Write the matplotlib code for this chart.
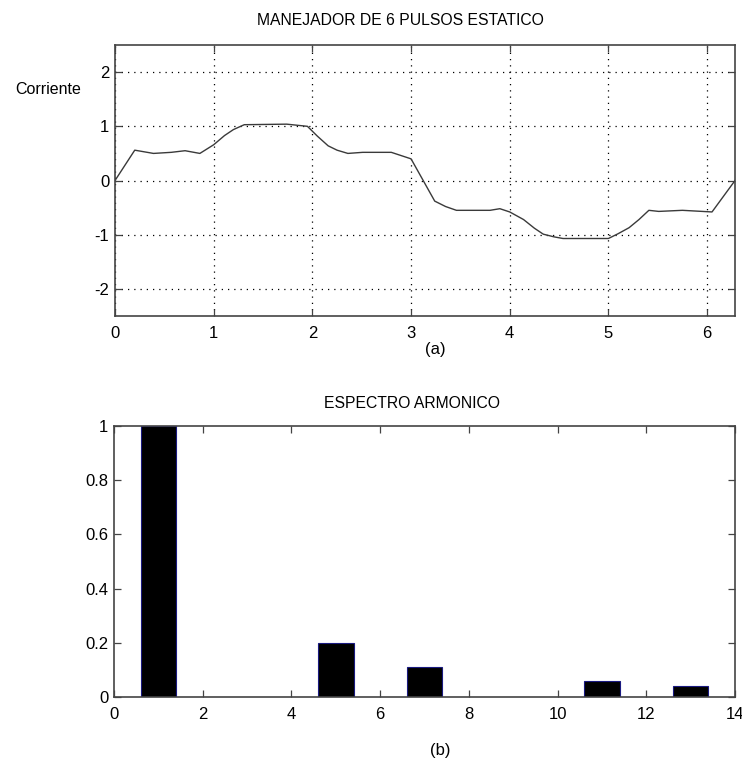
# -*- coding: utf-8 -*-
import numpy as np
import matplotlib
matplotlib.use("Agg")
import matplotlib.pyplot as plt

plt.rcParams['font.family'] = ['Liberation Sans Narrow', 'Liberation Sans', 'DejaVu Sans']
plt.rcParams['font.size'] = 12
plt.rcParams['axes.unicode_minus'] = False

#%% Datos leidos de la figura
# corriente del manejador de 6 pulsos (a)
t = [0, 0.20, 0.39, 0.57, 0.71, 0.86, 1.0, 1.11, 1.20, 1.31, 1.74, 1.95, 2.05, 2.16,
     2.25, 2.36, 2.51, 2.80, 3.0, 3.24, 3.35, 3.46, 3.80, 3.90, 4.0, 4.14, 4.25, 4.34,
     4.45, 4.54, 5.0, 5.10, 5.21, 5.31, 5.41, 5.51, 5.75, 6.05, 2*np.pi]
corriente = [0, 0.56, 0.50, 0.52, 0.55, 0.50, 0.66, 0.83, 0.94, 1.03, 1.04, 1.0, 0.82, 0.64,
             0.56, 0.50, 0.52, 0.52, 0.40, -0.38, -0.48, -0.55, -0.55, -0.52, -0.58, -0.72, -0.88, -0.99,
             -1.04, -1.07, -1.07, -0.98, -0.87, -0.72, -0.55, -0.57, -0.55, -0.58, 0]

# espectro armonico (b)
armonico = [1, 5, 7, 11, 13]
amplitud = [1.0, 0.2, 0.11, 0.06, 0.04]

#%% Figura
fig = plt.figure(figsize=(7.42, 7.62), dpi=100)

ax1 = fig.add_axes([0.155, 0.5853, 0.8356, 0.3556])
ax1.plot(t, corriente, color='#3a3a3a', lw=1.0)
ax1.set_xlim(0, 2*np.pi)
ax1.set_ylim(-2.5, 2.5)
ax1.set_xticks([0, 1, 2, 3, 4, 5, 6])
ax1.set_yticks([-2, -1, 0, 1, 2])
ax1.grid(True, linestyle=(0, (1, 4)), color='k', lw=0.9)
ax1.text(0.46, 1.092, 'MANEJADOR DE 6 PULSOS ESTATICO', transform=ax1.transAxes,
         ha='center', va='center', fontsize=11.3)
ax1.text(0.516, -0.125, '(a)', transform=ax1.transAxes, ha='center', va='center')
fig.text(0.02, 0.883, 'Corriente', ha='left', va='center', fontsize=11.5)

ax2 = fig.add_axes([0.1536, 0.0853, 0.837, 0.3556])
ax2.bar(armonico, amplitud, width=0.8, color='k', edgecolor='#1a1a80', lw=0.8)
ax2.set_xlim(0, 14)
ax2.set_ylim(0, 1)
ax2.set_xticks(range(0, 15, 2))
ax2.set_yticks([0, 0.2, 0.4, 0.6, 0.8, 1])
ax2.set_yticklabels(['0', '0.2', '0.4', '0.6', '0.8', '1'])
ax2.text(0.48, 1.085, 'ESPECTRO ARMONICO', transform=ax2.transAxes,
         ha='center', va='center', fontsize=11.3)
ax2.text(0.525, -0.196, '(b)', transform=ax2.transAxes, ha='center', va='center')

for ax in [ax1, ax2]:
    ax.tick_params(direction='in', top=True, right=True, length=5, width=0.9,
                   color='#444444', labelsize=12)
    ax.tick_params(axis='x', pad=7)
    ax.tick_params(axis='y', pad=4)
    for s in ax.spines.values():
        s.set_color('#444444')
        s.set_linewidth(1.2)

fig.savefig('out.png', dpi=100)
